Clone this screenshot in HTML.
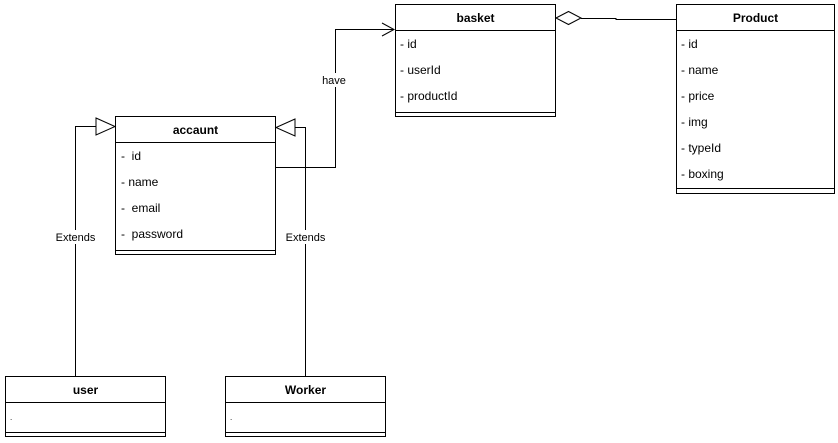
<!DOCTYPE html>
<html><head><meta charset="utf-8"><style>
html,body{margin:0;padding:0;background:#fff;}
svg{display:block;}
text{font-family:"Liberation Sans",sans-serif;font-size:12px;fill:#000;white-space:pre;}
.b{font-weight:bold;}
</style></head><body>
<svg width="838" height="443" viewBox="0 0 838 443" xmlns="http://www.w3.org/2000/svg">
<g fill="none" stroke="#000" stroke-width="1">
<rect x="115.5" y="116.5" width="160" height="138"/>
<line x1="115" y1="142.5" x2="276" y2="142.5"/>
<line x1="115" y1="250.5" x2="276" y2="250.5"/>
<rect x="395.5" y="4.5" width="160" height="112"/>
<line x1="395" y1="30.5" x2="556" y2="30.5"/>
<line x1="395" y1="112.5" x2="556" y2="112.5"/>
<rect x="676.5" y="4.5" width="158" height="189"/>
<line x1="676" y1="30.5" x2="835" y2="30.5"/>
<line x1="676" y1="188.5" x2="835" y2="188.5"/>
<rect x="5.5" y="376.5" width="160" height="60"/>
<line x1="5" y1="402.5" x2="166" y2="402.5"/>
<line x1="5" y1="432.5" x2="166" y2="432.5"/>
<rect x="225.5" y="376.5" width="160" height="60"/>
<line x1="225" y1="402.5" x2="386" y2="402.5"/>
<line x1="225" y1="432.5" x2="386" y2="432.5"/>
<polyline points="75.5,376 75.5,126.5 96,126.5"/>
<polygon points="96,118 115,126.5 96,135" fill="#fff"/>
<polyline points="305.5,376 305.5,127.5 295,127.5"/>
<polygon points="295,119 276,127.5 295,136" fill="#fff"/>
<polyline points="276,167.5 335.5,167.5 335.5,29.5 394,29.5"/>
<polyline points="382,23 394,29.5 382,36"/>
<polygon points="556,18 568.5,11.5 581,18 568.5,24.5" fill="#fff"/>
<polyline points="581,18.5 616,18.5 616,19.5 676,19.5"/>
</g>
<rect x="55" y="230" width="42" height="14" fill="#fff"/>
<rect x="285" y="230" width="42" height="14" fill="#fff"/>
<rect x="320" y="73" width="30" height="14" fill="#fff"/>
<text x="75.5" y="241" text-anchor="middle" style="font-size:11px">Extends</text>
<text x="305.5" y="241" text-anchor="middle" style="font-size:11px">Extends</text>
<text x="334" y="84" text-anchor="middle" style="font-size:11px">have</text>
<text class="b" x="195.5" y="134" text-anchor="middle">accaunt</text>
<text x="121" y="160">-&#160;&#160;id</text>
<text x="121" y="186">- name</text>
<text x="121" y="212">-&#160;&#160;email</text>
<text x="121" y="238">-&#160;&#160;password</text>
<text class="b" x="475.5" y="22" text-anchor="middle">basket</text>
<text x="400" y="48">- id</text>
<text x="400" y="74">- userId</text>
<text x="400" y="100">- productId</text>
<text class="b" x="755.5" y="22" text-anchor="middle">Product</text>
<text x="681" y="48">- id</text>
<text x="681" y="74">- name</text>
<text x="681" y="100">- price</text>
<text x="681" y="126">- img</text>
<text x="681" y="152">- typeId</text>
<text x="681" y="178">- boxing</text>
<text class="b" x="85.5" y="394" text-anchor="middle">user</text>
<text class="b" x="305.5" y="394" text-anchor="middle">Worker</text>
<text x="10" y="420" style="font-size:8px">.</text>
<text x="230" y="420" style="font-size:8px">.</text>
</svg>
</body></html>
